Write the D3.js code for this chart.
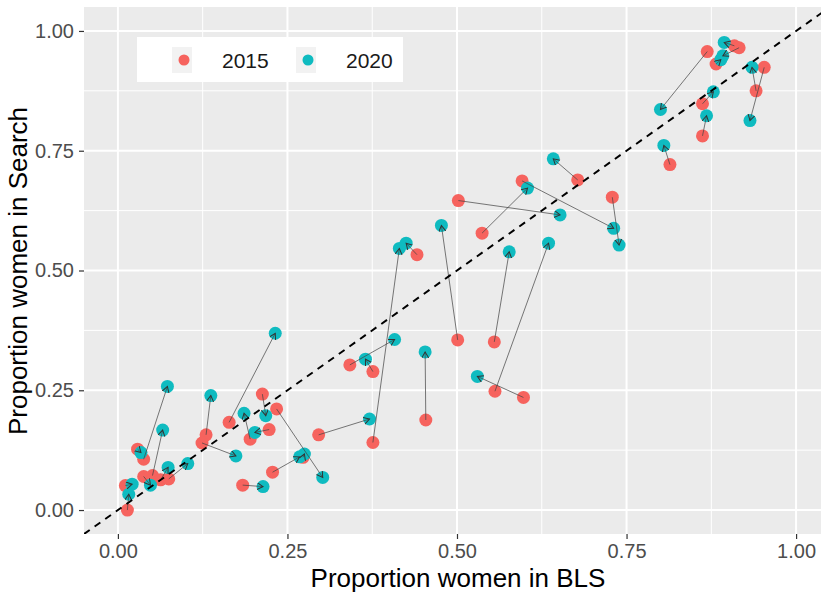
<!DOCTYPE html>
<html>
<head>
<meta charset="utf-8">
<script src="https://cdn.jsdelivr.net/npm/d3@7"></script>
<style>
  body { margin: 0; background: white; }
  svg { display: block; font-family: "Liberation Sans", Arial, sans-serif; }
</style>
</head>
<body>
<div id="chart"></div>
<script>
// proportion women, 2015 vs 2020 (one entry per occupation)
var bls2015    = [0.869,0.909,0.916,0.882,0.941,0.953,0.862,0.862,0.814,0.678,0.596,0.537,0.502,0.729,0.555,0.556,0.598,0.501,0.441,0.376,0.342,0.376,0.454,0.296,0.130,0.124,0.164,0.213,0.195,0.223,0.234,0.228,0.273,0.184,0.038,0.029,0.051,0.063,0.075,0.038,0.011,0.014]
var search2015 = [0.957,0.969,0.965,0.931,0.875,0.924,0.848,0.781,0.721,0.689,0.687,0.578,0.646,0.653,0.351,0.248,0.235,0.355,0.533,0.141,0.303,0.289,0.188,0.157,0.157,0.140,0.183,0.242,0.148,0.168,0.211,0.079,0.110,0.052,0.106,0.127,0.072,0.063,0.065,0.070,0.051,0.000]
var bls2020    = [0.800,0.894,0.892,0.889,0.935,0.932,0.878,0.868,0.805,0.642,0.731,0.604,0.652,0.739,0.577,0.635,0.530,0.477,0.425,0.415,0.408,0.365,0.453,0.371,0.137,0.174,0.232,0.218,0.186,0.202,0.302,0.268,0.275,0.214,0.073,0.034,0.066,0.074,0.103,0.048,0.021,0.016]
var search2020 = [0.836,0.976,0.948,0.940,0.924,0.813,0.873,0.823,0.761,0.733,0.588,0.672,0.616,0.553,0.539,0.557,0.279,0.594,0.557,0.546,0.356,0.315,0.330,0.190,0.239,0.113,0.369,0.197,0.202,0.162,0.068,0.111,0.117,0.049,0.258,0.120,0.167,0.089,0.097,0.052,0.054,0.033]
var years = ['2015','2020']
var yearColors = ['#F6635E','#0FBBC0']
var ticks = [0, 0.25, 0.5, 0.75, 1]
var minorTicks = [0.125, 0.375, 0.625, 0.875]

var width = 821, height = 594
var panel = {left: 84, top: 7, right: 830, bottom: 534}

var x = d3.scaleLinear().domain([-0.05, 1.05]).range([panel.left, panel.right])
var y = d3.scaleLinear().domain([-0.05, 1.05]).range([panel.bottom, panel.top])

var svg = d3.select('#chart')
            .append('svg')
            .attr('width', width)
            .attr('height', height)

svg.append('defs').append('clipPath')
    .attr('id', 'clip')
    .append('rect')
    .attr('x', panel.left)
    .attr('y', panel.top)
    .attr('width', panel.right - panel.left)
    .attr('height', panel.bottom - panel.top)

var marker = svg.select('defs').append('marker')
    .attr('id', 'arrow')
    .attr('markerUnits', 'userSpaceOnUse')
    .attr('markerWidth', 10)
    .attr('markerHeight', 10)
    .attr('refX', 6)
    .attr('refY', 3.5)
    .attr('orient', 'auto')
marker.append('path')
    .attr('d', 'M0,0 L6,3.5 L0,7')
    .attr('fill', 'none')
    .attr('stroke', '#333')
    .attr('stroke-width', 1)

// panel background
svg.append('rect')
    .attr('x', panel.left)
    .attr('y', panel.top)
    .attr('width', panel.right - panel.left)
    .attr('height', panel.bottom - panel.top)
    .attr('fill', '#EBEBEB')

var grid = svg.append('g').attr('clip-path', 'url(#clip)')
grid.selectAll('line.minorx').data(minorTicks).enter().append('line')
    .attr('x1', d => x(d)).attr('x2', d => x(d))
    .attr('y1', panel.top).attr('y2', panel.bottom)
    .attr('stroke', 'white').attr('stroke-width', 1)
grid.selectAll('line.minory').data(minorTicks).enter().append('line')
    .attr('y1', d => y(d)).attr('y2', d => y(d))
    .attr('x1', panel.left).attr('x2', panel.right)
    .attr('stroke', 'white').attr('stroke-width', 1)
grid.selectAll('line.majorx').data(ticks).enter().append('line')
    .attr('x1', d => x(d)).attr('x2', d => x(d))
    .attr('y1', panel.top).attr('y2', panel.bottom)
    .attr('stroke', 'white').attr('stroke-width', 2)
grid.selectAll('line.majory').data(ticks).enter().append('line')
    .attr('y1', d => y(d)).attr('y2', d => y(d))
    .attr('x1', panel.left).attr('x2', panel.right)
    .attr('stroke', 'white').attr('stroke-width', 2)

var plot = svg.append('g').attr('clip-path', 'url(#clip)')

// points
var pts = d3.range(bls2015.length)
plot.selectAll('circle.y2015').data(pts).enter().append('circle')
    .attr('cx', i => x(bls2015[i]))
    .attr('cy', i => y(search2015[i]))
    .attr('r', 6.5)
    .attr('fill', yearColors[0])
plot.selectAll('circle.y2020').data(pts).enter().append('circle')
    .attr('cx', i => x(bls2020[i]))
    .attr('cy', i => y(search2020[i]))
    .attr('r', 6.5)
    .attr('fill', yearColors[1])

// change arrows
plot.selectAll('line.change').data(pts).enter().append('line')
    .attr('x1', i => x(bls2015[i]))
    .attr('y1', i => y(search2015[i]))
    .attr('x2', i => x(bls2020[i]))
    .attr('y2', i => y(search2020[i]))
    .attr('stroke', '#444')
    .attr('stroke-opacity', 0.8)
    .attr('stroke-width', 0.9)
    .attr('marker-end', 'url(#arrow)')

// y = x reference
plot.append('line')
    .attr('x1', x(-0.05)).attr('y1', y(-0.05))
    .attr('x2', x(1.05)).attr('y2', y(1.05))
    .attr('stroke', 'black')
    .attr('stroke-width', 2)
    .attr('stroke-dasharray', '7,6')

// axes
var xAxis = svg.append('g')
    .attr('transform', 'translate(0,' + panel.bottom + ')')
    .call(d3.axisBottom(x).tickValues(ticks).tickFormat(d3.format('.2f')).tickSize(5).tickPadding(5))
var yAxis = svg.append('g')
    .attr('transform', 'translate(' + panel.left + ',0)')
    .call(d3.axisLeft(y).tickValues(ticks).tickFormat(d3.format('.2f')).tickSize(5).tickPadding(5))
;[xAxis, yAxis].forEach(function(a){
    a.select('.domain').remove()
    a.selectAll('.tick line').attr('stroke', '#333').attr('stroke-width', 1.2)
    a.selectAll('.tick text')
        .attr('fill', '#4D4D4D')
        .style('font-size', '20px')
        .style('font-family', '"Liberation Sans", Arial, sans-serif')
})

svg.append('text')
    .attr('x', 458)
    .attr('y', 587)
    .attr('text-anchor', 'middle')
    .style('font-size', '26px')
    .attr('fill', 'black')
    .text('Proportion women in BLS')
svg.append('text')
    .attr('transform', 'translate(27,' + 271 + ') rotate(-90)')
    .attr('text-anchor', 'middle')
    .style('font-size', '26px')
    .attr('fill', 'black')
    .text('Proportion women in Search')

// legend
var legend = svg.append('g')
legend.append('rect')
    .attr('x', 137).attr('y', 37)
    .attr('width', 266).attr('height', 45)
    .attr('fill', 'white')
var keyX = [172, 296]
legend.selectAll('rect.key').data(years).enter().append('rect')
    .attr('x', (d, i) => keyX[i]).attr('y', 47)
    .attr('width', 20).attr('height', 26)
    .attr('fill', '#F2F2F2')
legend.selectAll('circle.key').data(years).enter().append('circle')
    .attr('cx', (d, i) => keyX[i] + 12).attr('cy', 60)
    .attr('r', 5.5)
    .attr('fill', (d, i) => yearColors[i])
legend.selectAll('text.key').data(years).enter().append('text')
    .attr('x', (d, i) => keyX[i] + 50).attr('y', 68)
    .style('font-size', '21px')
    .attr('fill', '#1A1A1A')
    .text(d => d)
</script>
</body>
</html>
